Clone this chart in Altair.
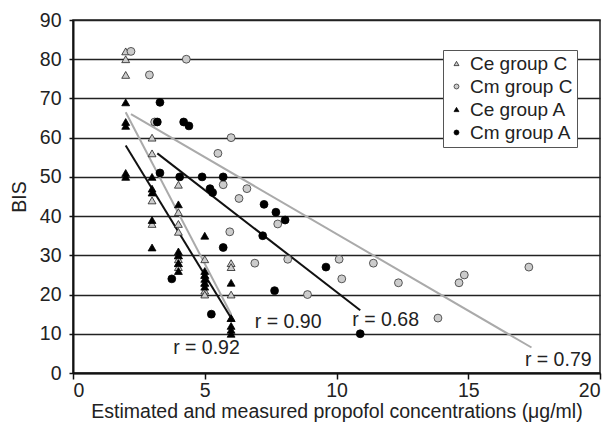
import altair as alt
import pandas as pd

# ---- data ----
ce_c_x = [2, 2, 2, 3, 3, 3, 3, 4, 4, 4, 4, 4, 4, 4, 4, 5, 5, 5, 5, 5, 6, 6, 6, 6]
ce_c_y = [82, 80, 76, 60, 56, 44, 38, 48, 41, 38, 36, 30, 29, 28, 27, 29, 25, 23, 21, 20, 28, 27, 20, 14]

ce_a_x = [2, 2, 2, 2, 2, 3, 3, 3, 3, 3, 4, 4, 4, 4, 4, 5, 5, 5, 5, 5, 5, 6, 6, 6, 6, 6]
ce_a_y = [69, 64, 63, 51, 50, 50, 47, 46, 39, 32, 43, 31, 30, 28, 26, 35, 26, 25, 24, 23, 22, 23, 14, 12, 11, 10]

cm_c_x = [2.2, 4.3, 2.9, 3.1, 6.0, 5.5, 5.7, 6.6, 6.3, 5.95, 6.9, 8.15, 10.1, 11.4, 10.2, 12.35, 8.9, 13.85, 14.65, 14.85, 17.3, 7.77]
cm_c_y = [82, 80, 76, 64, 60, 56, 48, 47, 44.5, 36, 28, 29, 29, 28, 24, 23, 20, 14, 23, 25, 27, 38]

cm_a_x = [3.3, 3.2, 4.2, 4.4, 3.3, 4.05, 4.9, 5.7, 5.2, 5.3, 5.7, 3.75, 5.25, 7.25, 7.7, 8.05, 7.2, 9.6, 7.65, 10.9]
cm_a_y = [69, 64, 64, 63, 51, 50, 50, 50, 47, 46, 32, 24, 15, 43, 41, 39, 35, 27, 21, 10]

series_names = ["Ce group C", "Cm group C", "Ce group A", "Cm group A"]

# regression lines (start / end)
line_x1 = [2.0, 2.0, 2.2, 3.2]
line_y1 = [66.5, 58, 66, 56]
line_x2 = [6.0, 6.0, 17.4, 10.9]
line_y2 = [15, 14, 6.5, 16]
line_col = ["#aaaaaa", "#111111", "#aaaaaa", "#111111"]

label_text = ["r = 0.92", "r = 0.90", "r = 0.68", "r = 0.79"]
label_x = [3.8, 6.9, 10.6, 17.15]
label_y = [6.5, 13.1, 13.5, 3.3]

x_ticks = [0, 5, 10, 15, 20]
y_ticks = [0, 10, 20, 30, 40, 50, 60, 70, 80, 90]

# ---- tables ----
rows = []
for name, xs, ys in [("Ce group C", ce_c_x, ce_c_y), ("Cm group C", cm_c_x, cm_c_y),
                     ("Ce group A", ce_a_x, ce_a_y), ("Cm group A", cm_a_x, cm_a_y)]:
    for xv, yv in zip(xs, ys):
        rows.append({"x": xv, "y": yv, "series": name})
pts = pd.DataFrame(rows)

lines = pd.DataFrame({"x": line_x1, "y": line_y1, "x2": line_x2, "y2": line_y2, "col": line_col})
labels = pd.DataFrame({"x": label_x, "y": label_y, "t": label_text})

FONT = "Liberation Sans"
FS = 19.5

xscale = alt.Scale(domain=[0, 20], nice=False)
yscale = alt.Scale(domain=[0, 90], nice=False)
xaxis = alt.Axis(values=x_ticks, grid=False, labelOverlap=False,
                 title="Estimated and measured propofol concentrations (\u03bcg/ml)")
yaxis = alt.Axis(values=y_ticks, grid=True, labelOverlap=False, title="BIS")

X = alt.X("x:Q", scale=xscale, axis=xaxis)
Y = alt.Y("y:Q", scale=yscale, axis=yaxis)

rules = alt.Chart(lines).mark_rule(strokeWidth=2).encode(
    x=X, y=Y, x2="x2:Q", y2="y2:Q",
    color=alt.Color("col:N", scale=None),
)

leg = alt.Legend(title=None, orient="none", legendX=370, legendY=30)

points = alt.Chart(pts).mark_point(filled=True, strokeWidth=0.8, opacity=1, size=62).encode(
    x=X, y=Y,
    shape=alt.Shape("series:N",
                    scale=alt.Scale(domain=series_names,
                                    range=["triangle-up", "circle", "triangle-up", "circle"]),
                    legend=leg),
    fill=alt.Fill("series:N",
                  scale=alt.Scale(domain=series_names,
                                  range=["#cccccc", "#cccccc", "#000000", "#000000"]),
                  legend=leg),
    stroke=alt.Stroke("series:N",
                      scale=alt.Scale(domain=series_names,
                                      range=["#222222", "#333333", "#000000", "#000000"]),
                      legend=leg),
)

texts = alt.Chart(labels).mark_text(align="left", baseline="middle", font=FONT,
                                    fontSize=FS, color="#222222").encode(
    x=X, y=Y, text="t:N",
)

chart = alt.layer(rules, points, texts).properties(
    width=527, height=353,
    autosize=alt.AutoSizeParams(type="none"),
    padding={"left": 73, "top": 20, "right": 9, "bottom": 58},
).configure_view(
    stroke="#222222", strokeWidth=1.5
).configure_axis(
    domainColor="#111111", domainWidth=2,
    tickColor="#111111", tickWidth=1.5,
    gridColor="#222222", gridWidth=1.5, gridOpacity=1,
    labelFont=FONT, labelFontSize=FS, labelColor="#222222",
    titleFont=FONT, titleFontSize=FS, titleFontWeight="normal", titleColor="#222222",
).configure_axisY(
    tickSize=4, labelPadding=8, titlePadding=10
).configure_axisX(
    tickSize=6, labelPadding=2, titlePadding=3
).configure_legend(
    strokeColor="#555555", fillColor="white", padding=4,
    labelFont=FONT, labelFontSize=19, labelColor="#222222",
    symbolSize=24, symbolStrokeWidth=0.8,
    rowPadding=3, cornerRadius=0, labelOffset=4,
)

chart.save("out.html", embed_options={"renderer": "svg", "actions": False})
